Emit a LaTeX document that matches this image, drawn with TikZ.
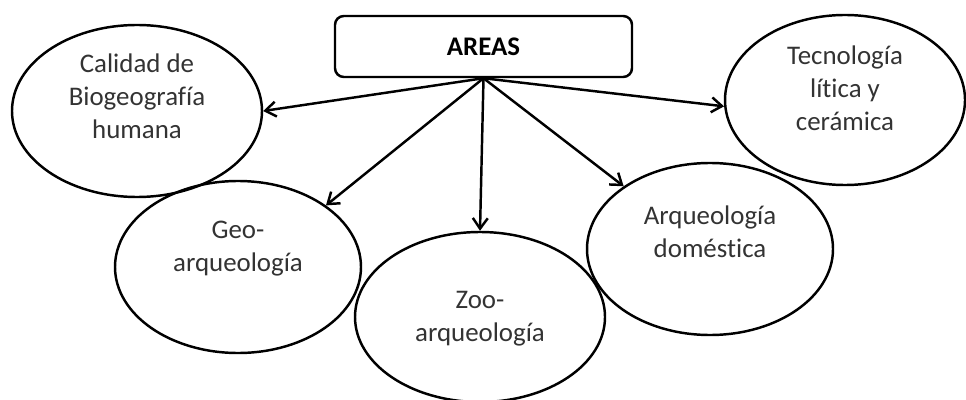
\documentclass[tikz,border=0pt]{standalone}
\usepackage{fontspec}
\setmainfont{Carlito}[Ligatures=NoCommon]
\usepackage{tikz}
\usetikzlibrary{arrows.meta}
\usetikzlibrary{calc}
\usepgflibrary{shapes.geometric}

\begin{document}
\begin{tikzpicture}[area/.style={ellipse, inner sep=0.0mm, line width=1.4pt,
     draw=black},
  areatext/.style={align=center, text=black!80, inner sep=0mm,
    font=\fontsize{15.3}{18.7}\selectfont},
  title/.style={rectangle, rounded corners=5pt, inner sep=0.0mm,
    minimum width=5.94cm, minimum height=1.22cm, line width=1.4pt,
    draw=black, font=\fontsize{15.3}{18.7}\selectfont\bfseries}]

  \useasboundingbox (0,0) rectangle (19.32,-8);

  \node[title] at (9.67,-0.93) (areas) {AREAS};

  \node[area, minimum width=5.0cm, minimum height=3.44cm] at (2.74,-2.22)
  (calidad) {};
  \node[area, minimum width=4.8cm, minimum height=3.40cm] at (16.90,-2.00)
  (tecno) {};
  \node[area, minimum width=4.92cm, minimum height=3.44cm] at (4.76,-5.34)
  (geo) {};
  \node[area, minimum width=5.0cm, minimum height=3.40cm] at (9.60,-6.34)
  (zoo) {};
  \node[area, minimum width=4.92cm, minimum height=3.44cm] at (14.20,-4.98)
  (domestica) {};

  \node[areatext] (calidadtxt) at ($(calidad.center)+(0,.3)$)
  {Calidad de\\Biogeografía\\humana};
  \node[areatext] (tecnotxt) at ($(tecno.center)+(0,.24)$)
  {Tecnología\\lítica y\\cerámica};
  \node[areatext] (geotxt) at ($(geo.center)+(0,.36)$) {Geo-\\arqueología};
  \node[areatext] (zootxt) at ($(zoo.center)+(0,-.04)$) {Zoo-\\arqueología};
  \node[areatext] (domesticatxt) at ($(domestica.center)+(0,.34)$)
  {Arqueología\\doméstica};

  \path[-{Straight Barb[length=6pt,width=8.5pt]}, line width=1.4pt]
  (areas.south) edge (calidad.east)
  (areas.south) edge (geo.35)
  (areas.south) edge (zoo.north)
  (areas.south) edge (domestica.144)
  (areas.south) edge (tecno.183);

\end{tikzpicture}
\end{document}
